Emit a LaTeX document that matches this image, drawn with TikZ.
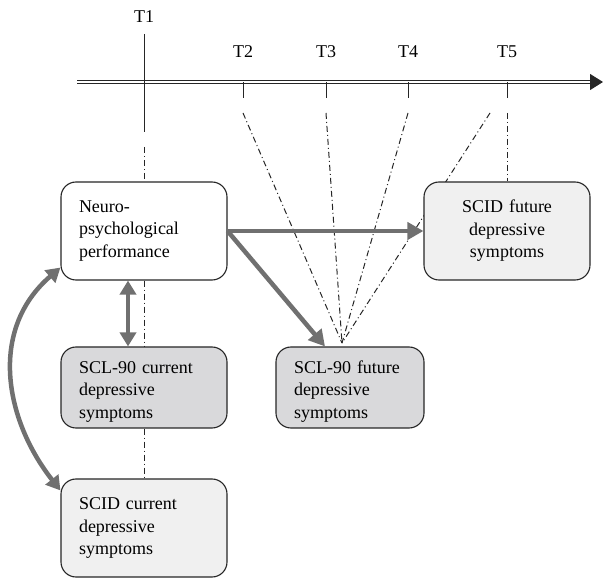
\documentclass[tikz,border=0pt]{standalone}
\usepackage{fontspec}
\setmainfont{Liberation Serif}
\usetikzlibrary{arrows.meta}

\definecolor{arrowgray}{RGB}{112,112,112}
\definecolor{boxdark}{RGB}{217,217,219}
\definecolor{boxlight}{RGB}{240,240,240}
\newcommand{\padtop}{\rule{0pt}{20pt}}

\begin{document}
\begin{tikzpicture}[x=1pt,y=1pt,
        every node/.style={font=\fontsize{18}{22.5}\selectfont},
        timeaxis/.style={draw=black!85,line width=1.2pt,double=white,double distance=1.4pt},
        axistick/.style={draw=black!85,line width=1pt},
        ddline/.style={draw=black!85,line width=1pt,dash pattern=on 6pt off 3pt on 1pt off 3pt},
        box/.style={draw=black!85,line width=1.1pt,rounded corners=15pt,inner xsep=18pt,inner ysep=6pt,text width=130pt,align=left,minimum height=98pt},
        darkbox/.style={box,fill=boxdark,minimum height=81pt},
        lightbox/.style={box,fill=boxlight},
        link/.style={draw=arrowgray,line width=4.5pt,-{Triangle[length=16pt,width=17pt]}},
        twolink/.style={link,{Triangle[length=14pt,width=16pt]}-{Triangle[length=14pt,width=16pt]}}]
                \useasboundingbox (0,0) rectangle (603,579);

                \coordinate (a0) at (77,497);
                \coordinate (a1) at (603,497);
                \draw[timeaxis,-{Triangle[length=13pt,width=16pt]}] (a0) -- (a1);

                \coordinate (t1top) at (144,545);
                \coordinate (t1low) at (144,447);
                \coordinate (t1dd) at (144,432);
                \draw[axistick] (t1top) -- (t1low);

                \coordinate (t2) at (243,497);
                \coordinate (t3) at (326,497);
                \coordinate (t4) at (408,497);
                \coordinate (t5) at (507,497);
                \draw[axistick] (t2) -- ++(0,-16);
                \draw[axistick] (t3) -- ++(0,-16);
                \draw[axistick] (t4) -- ++(0,-16);
                \draw[axistick] (t5) -- ++(0,-16);

                \node (l1) at (144,562) {T1};
                \node (l2) at (243,527) {T2};
                \node (l3) at (326,527) {T3};
                \node (l4) at (408,527) {T4};
                \node (l5) at (507,527) {T5};

                \coordinate (meet) at (342,236);
                \coordinate (d2) at (243,466);
                \coordinate (d3) at (326,466);
                \coordinate (d4) at (408,466);
                \coordinate (d5) at (490,466);
                \coordinate (d5v) at (507,466);
                \draw[ddline] (d2) -- (meet);
                \draw[ddline] (d3) -- (meet);
                \draw[ddline] (d4) -- (meet);
                \draw[ddline] (d5) -- (meet);

                \node[box,fill=white] (neuro) at (144,348) {Neuro-\\psychological\\performance};
                \node[darkbox] (sclcur) at (144,191.5) {\padtop SCL-90 current\\depressive\\symptoms};
                \node[lightbox] (scidcur) at (144,51) {SCID current\\depressive\\symptoms};
                \node[darkbox,text width=112pt] (sclfut) at (350,191.5) {\padtop SCL-90 future\\depressive\\symptoms};
                \node[lightbox,align=center] (scidfut) at (507,348) {SCID future\\depressive\\symptoms};

                \draw[ddline] (d5v) -- (scidfut.north);
                \draw[ddline] (t1dd) -- (neuro.north);
                \draw[ddline] (neuro.south) -- (sclcur.north);
                \draw[ddline] (sclcur.south) -- (scidcur.north);

                \draw[link] (neuro.east) -- (scidfut.west);
                \draw[link] (neuro.east) -- ([xshift=-25pt]sclfut.north);
                \draw[twolink] ([xshift=-16pt]neuro.south) -- ([xshift=-16pt]sclcur.north);
                \draw[twolink] ([yshift=13pt]neuro.south west) .. controls (-12,249) and (5,159) .. ([yshift=-12pt]scidcur.north west);

            \end{tikzpicture}
\end{document}
